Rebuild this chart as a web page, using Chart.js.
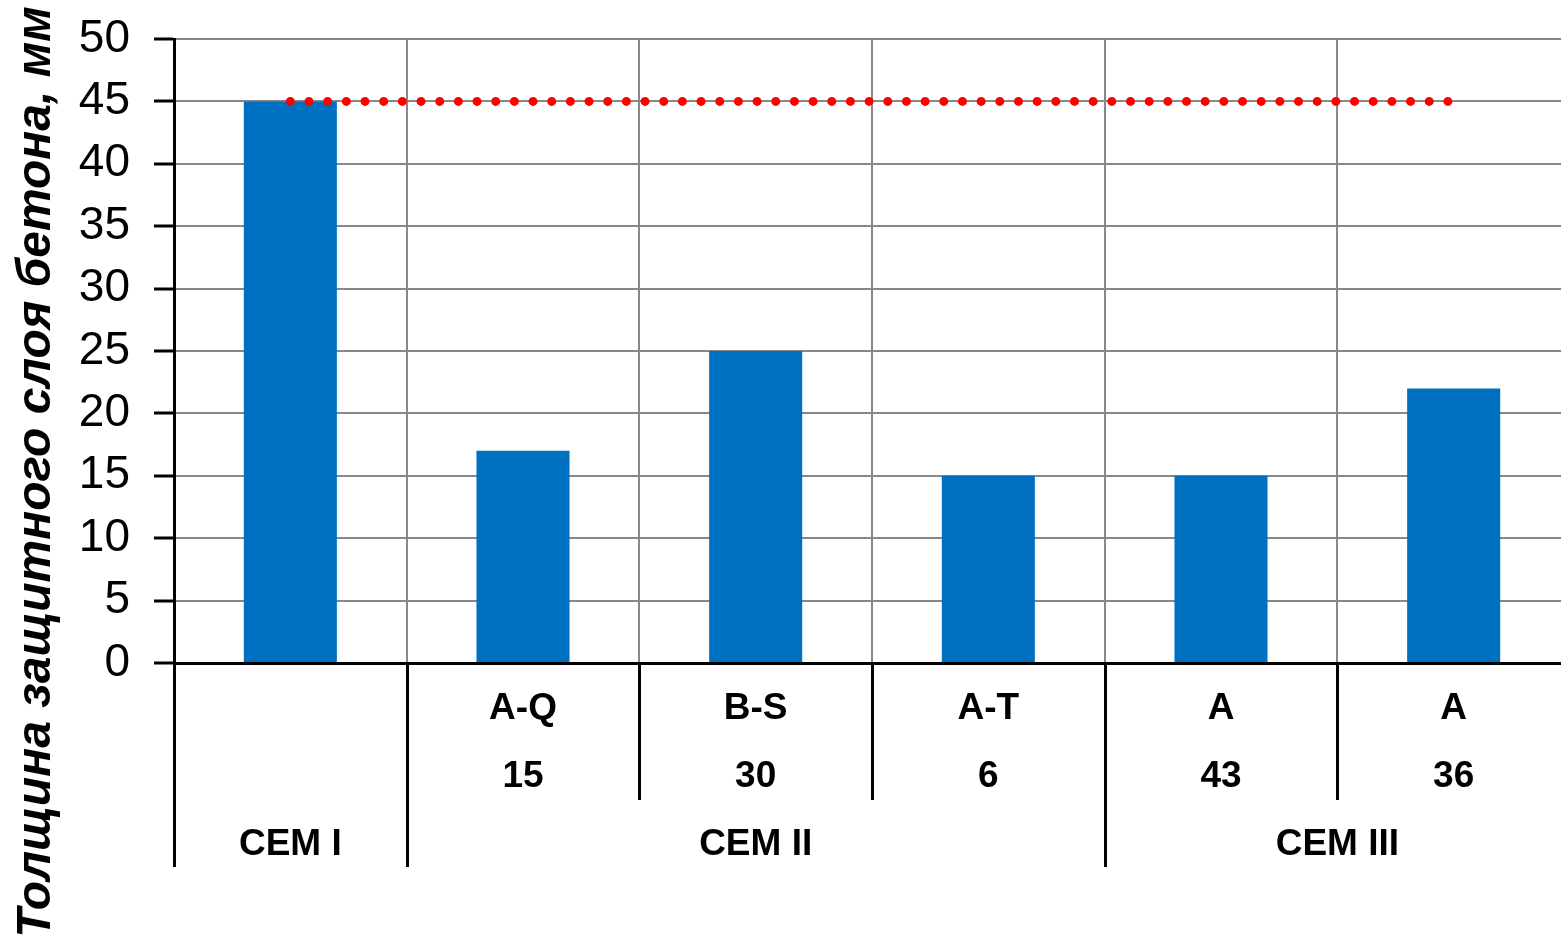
<!DOCTYPE html>
<html>
<head>
<meta charset="utf-8">
<script src="https://cdn.jsdelivr.net/npm/chart.js@4"></script>
<style>
html,body{margin:0;padding:0;background:#fff;overflow:hidden;}
#wrap{width:1561px;height:936px;position:relative;overflow:hidden;}
</style>
</head>
<body>
<div id="wrap"><canvas id="c" width="1570" height="936"></canvas></div>
<script>
// ---- data ----
const subtypes = ['', 'A-Q', 'B-S', 'A-T', 'A', 'A'];
const additions = ['', '15', '30', '6', '43', '36'];
const cementGroups = ['CEM I', 'CEM II', 'CEM III'];
const groupSpans = [1, 3, 2];
const thickness = [45, 17, 25, 15, 15, 22];
const requiredThickness = [45, 45, 45, 45, 45, 45];
const yMin = 0, yMax = 50, yStep = 5;
const yTitle = 'Толщина защитного слоя бетона, мм';

const FONT = '"Liberation Sans", Arial, sans-serif';

const bottomLabels = {
  id: 'bottomLabels',
  afterDraw(chart) {
    const ctx = chart.ctx;
    const xs = chart.scales.x;
    const area = chart.chartArea;
    const n = subtypes.length;
    const half = (xs.right - xs.left) / n / 2;
    const base = area.bottom;
    ctx.save();
    const groupStarts = new Set();
    let acc = 0;
    groupSpans.forEach(s => { groupStarts.add(acc); acc += s; });
    ctx.strokeStyle = '#000';
    ctx.lineWidth = 3;
    for (let i = 0; i < n; i++) {
      const x = Math.round(xs.getPixelForTick(i) - half) + 0.5;
      const end = groupStarts.has(i) ? 867 : 800;
      ctx.beginPath();
      ctx.moveTo(x, base);
      ctx.lineTo(x, end);
      ctx.stroke();
    }
    ctx.fillStyle = '#000';
    ctx.textAlign = 'center';
    ctx.textBaseline = 'middle';
    ctx.font = 'bold 37px ' + FONT;
    for (let i = 0; i < n; i++) {
      const x = xs.getPixelForTick(i);
      ctx.fillText(subtypes[i], x, 709);
      ctx.fillText(additions[i], x, 777);
    }
    acc = 0;
    groupSpans.forEach((s, g) => {
      const x0 = xs.getPixelForTick(acc) - half;
      const x1 = xs.getPixelForTick(acc + s - 1) + half;
      ctx.fillText(cementGroups[g], (x0 + x1) / 2, 845);
      acc += s;
    });
    ctx.translate(37, 472);
    ctx.rotate(-Math.PI / 2);
    ctx.font = 'italic bold 48px ' + FONT;
    ctx.fillText(yTitle, 0, 0);
    ctx.restore();
  }
};

new Chart(document.getElementById('c'), {
  data: {
    labels: subtypes.map((s, i) => s + ' ' + additions[i]),
    datasets: [
      {
        type: 'line',
        data: requiredThickness,
        borderColor: '#FF0000',
        borderWidth: 9,
        borderDash: [0.01, 18.66],
        borderCapStyle: 'round',
        pointRadius: 0,
        fill: false,
        order: 0
      },
      {
        type: 'bar',
        data: thickness,
        backgroundColor: '#0070C0',
        barPercentage: 0.4,
        categoryPercentage: 1.0,
        order: 1
      }
    ]
  },
  options: {
    responsive: false,
    animation: false,
    devicePixelRatio: 1,
    layout: { padding: { top: 39, right: 0, left: 0, bottom: 0 } },
    plugins: { legend: { display: false }, tooltip: { enabled: false } },
    scales: {
      x: {
        offset: true,
        grid: { color: '#888', lineWidth: 2, offset: true, drawTicks: false },
        border: { color: '#000', width: 3 },
        ticks: { display: false },
        afterFit(s) { s.height = 273; s.paddingLeft = 0; s.paddingRight = 0; }
      },
      y: {
        min: yMin, max: yMax,
        ticks: { stepSize: yStep, color: '#000', padding: 24, font: { size: 46, family: FONT } },
        grid: { color: '#888', lineWidth: 2, tickColor: '#000', tickWidth: 3, tickLength: 20 },
        border: { color: '#000', width: 3 },
        afterFit(s) { s.width = 174; s.paddingTop = 0; s.paddingBottom = 0; }
      }
    }
  },
  plugins: [bottomLabels]
});
</script>
</body>
</html>
